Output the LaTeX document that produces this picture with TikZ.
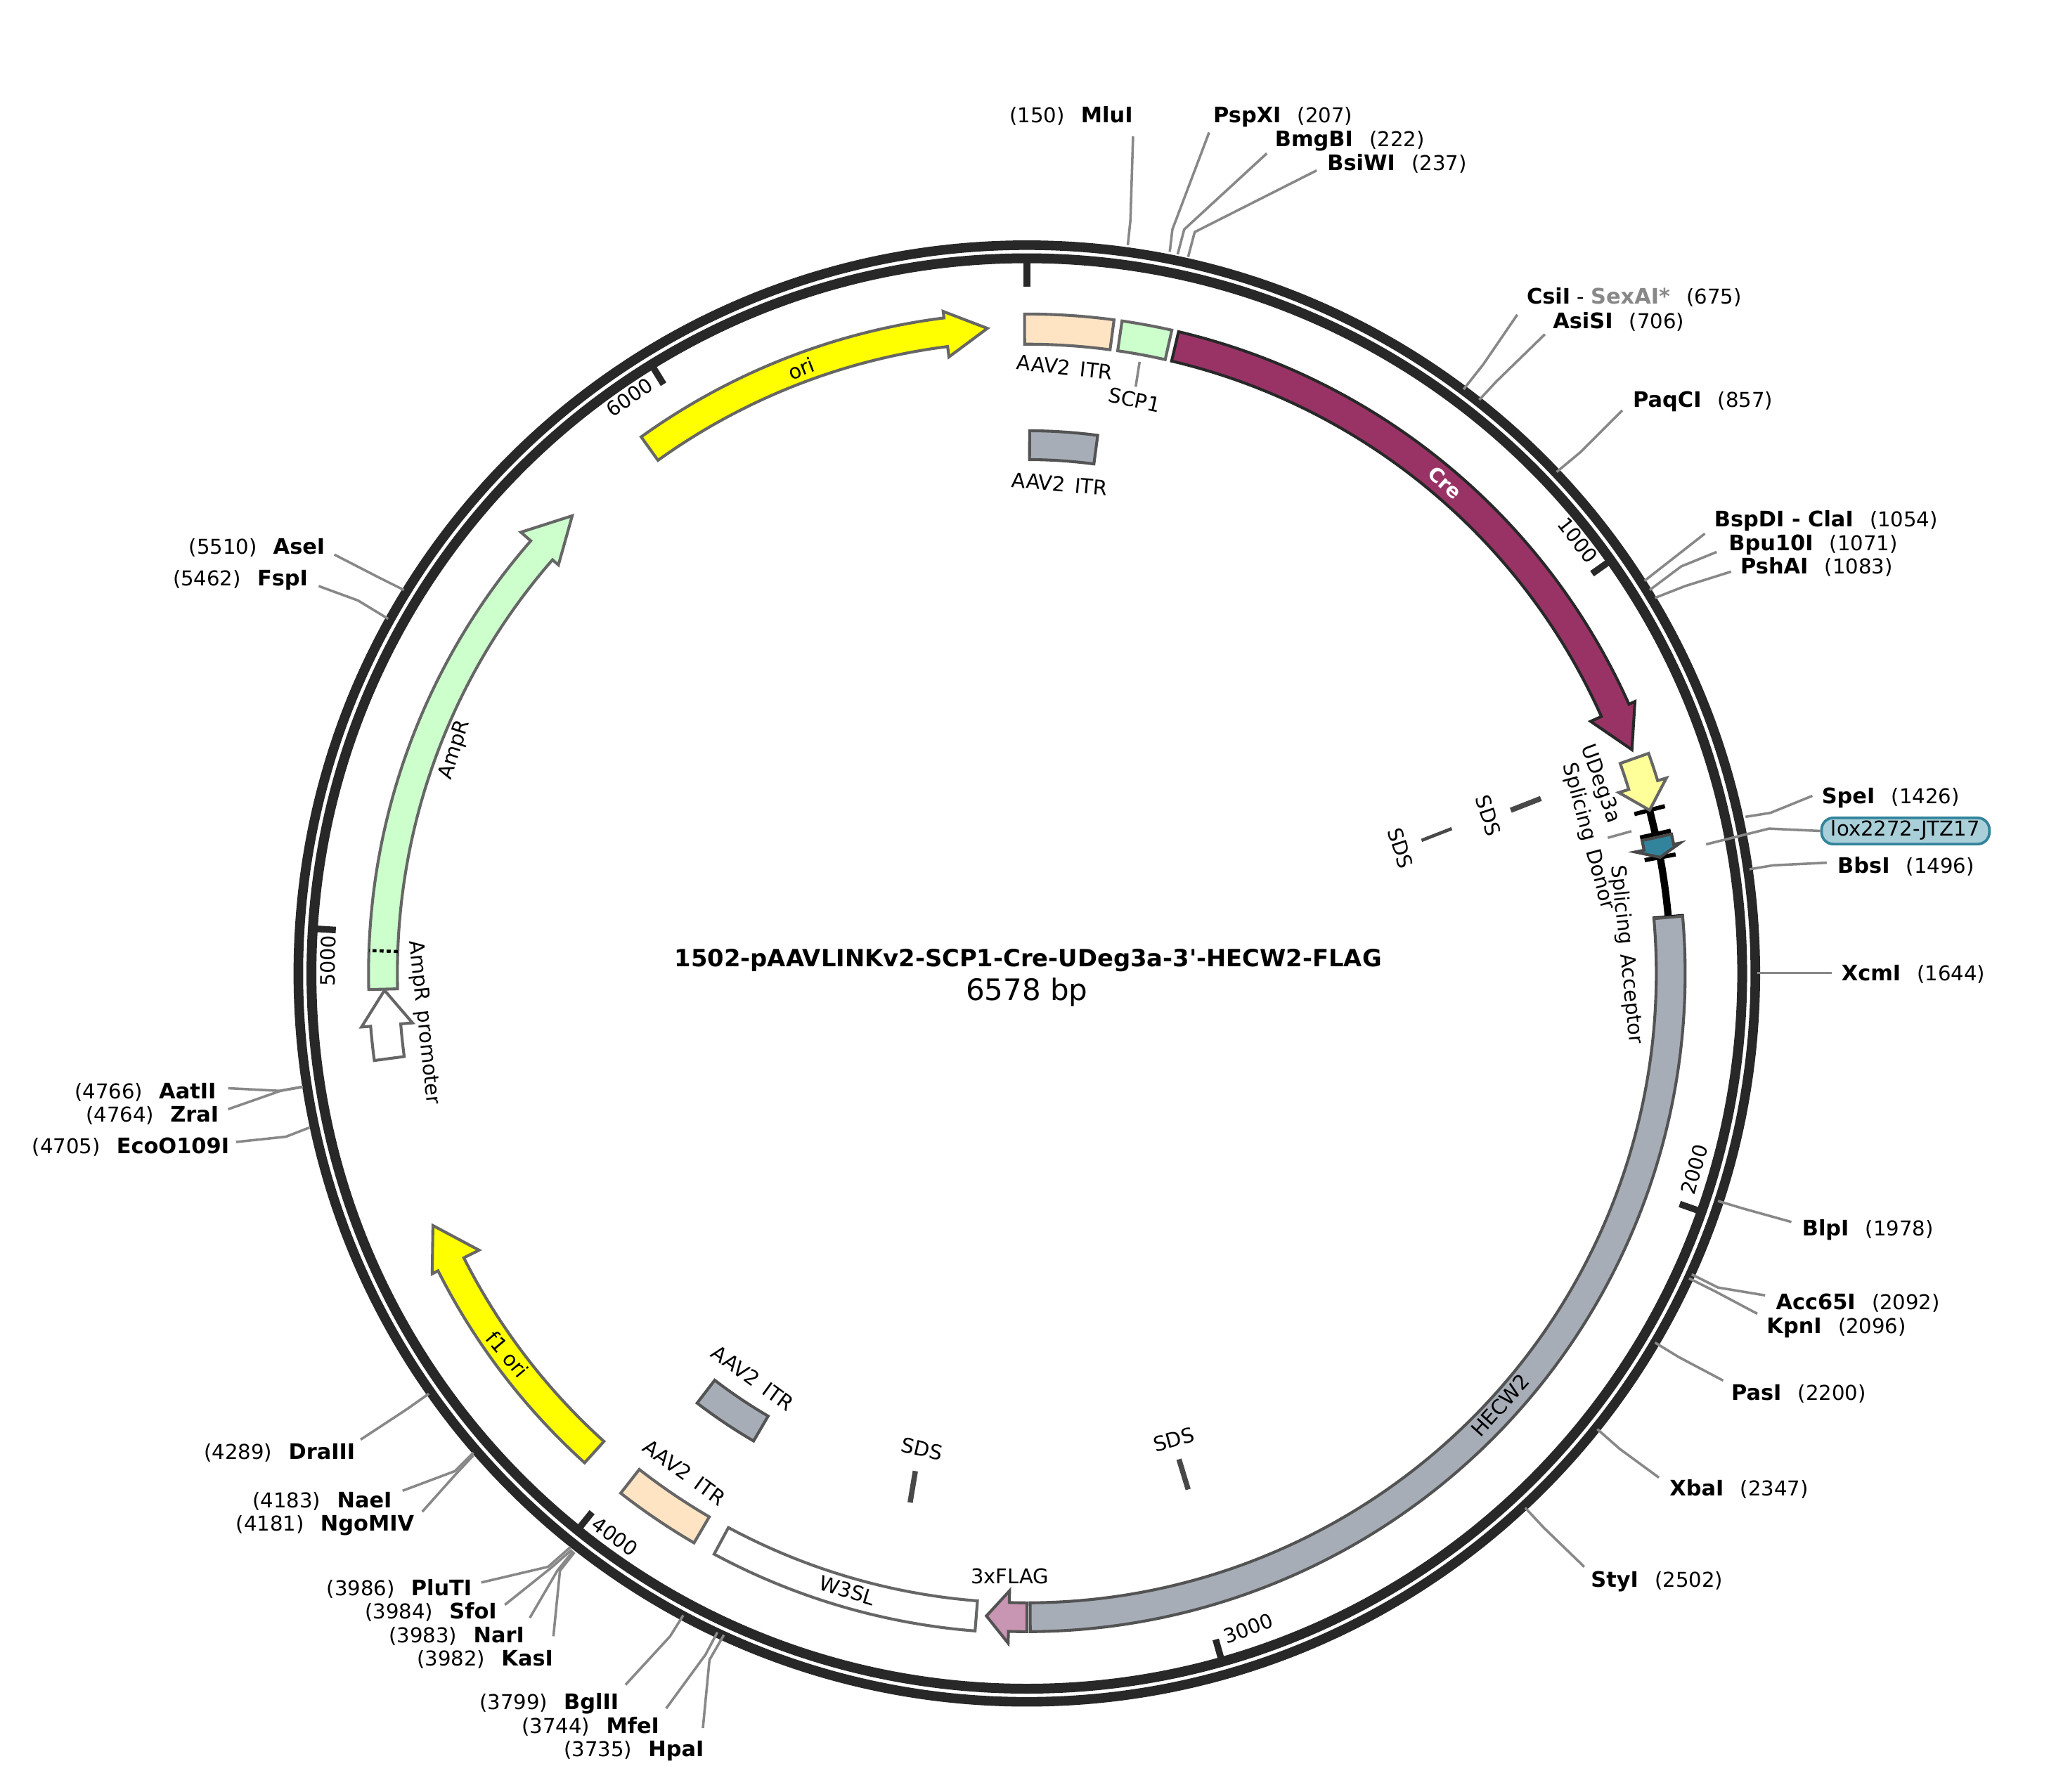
\documentclass[tikz,border=0pt]{standalone}
\usepackage{fontspec}
\setmainfont{DejaVu Sans}
\definecolor{ringc}{HTML}{282828}
\definecolor{leadc}{HTML}{888888}
\definecolor{edgec}{HTML}{666666}
\definecolor{creC}{HTML}{993366}
\definecolor{hecC}{HTML}{A6ADB6}
\definecolor{peachC}{HTML}{FFE4C4}
\definecolor{greenC}{HTML}{CCFFCC}
\definecolor{yelC}{rgb}{1,1,0}
\definecolor{lyelC}{HTML}{FFFF99}
\definecolor{blueC}{HTML}{31849B}
\definecolor{pinkC}{HTML}{C896B2}
\definecolor{pillC}{HTML}{A9CFD8}
\newcommand{\feBlock}[5]{%
  \draw[#5] ({90-#1}:#4) arc[start angle={90-#1},end angle={90-#2},radius=#4]
    -- ({90-#2}:#3) arc[start angle={90-#2},end angle={90-#1},radius=#3] -- cycle;}
\newcommand{\feArrow}[9]{% a1 a2 a3 rin rout bin bout rtip style
  \draw[#9] ({90-#1}:#5) arc[start angle={90-#1},end angle={90-#2},radius=#5]
    -- ({90-#2}:#7) -- ({90-#3}:#8) -- ({90-#2}:#6) -- ({90-#2}:#4)
    arc[start angle={90-#2},end angle={90-#1},radius=#4] -- cycle;}
\newcommand{\tickm}[3]{\draw[tickline] ({90-#1}:#2) -- ({90-#1}:#3);}
\newcommand{\enzname}[1]{{\fontsize{16.3}{18}\selectfont\bfseries #1}}
\newcommand{\rE}[4]{\node[enz,anchor=west] (#1) at (#3,#4) {\enzname{#1}\hspace{0.8em}(#2)};}
\newcommand{\lE}[4]{\node[enz,anchor=east] (#1) at (#3,#4) {(#2)\hspace{0.8em}\enzname{#1}};}
\newcommand{\lead}[4]{\coordinate (#1r) at #2; \coordinate (#1b) at #3; \coordinate (#1e) at #4; \draw[leader] (#1r) -- (#1b) -- (#1e);}
\tikzset{
  enz/.style={inner sep=0pt,yshift=-1.8pt,font=\fontsize{15.6}{18}\selectfont,text height=11.5pt,text depth=3.5pt},
  leader/.style={draw=leadc,line width=1.9pt,line join=round},
  tickline/.style={draw=ringc,line width=5pt},
  flab/.style={inner sep=0pt,font=\fontsize{15.5}{18}\selectfont},
  ticklab/.style={inner sep=0pt,font=\fontsize{15.2}{18}\selectfont},
  fe/.style={line width=2.2pt,draw=edgec,line join=miter},
  dbar/.style={draw=#1,line width=4pt},
}
\begin{document}
\begin{tikzpicture}[x=1pt,y=-1pt]
\useasboundingbox (0,0) rectangle (1567.8,1366.8);
\fill[white] (0,0) rectangle (1567.8,1366.8);
\begin{scope}[shift={(783,742.5)},x=1pt,y=1pt]
  \draw[draw=ringc,line width=7.3pt] (0,0) circle[radius=555.5];
  \draw[draw=ringc,line width=7.5pt] (0,0) circle[radius=545.5];
  \tickm{0}{544}{524}
  \tickm{54.72}{544}{528}
  \tickm{109.45}{544}{528}
  \tickm{164.17}{544}{528}
  \tickm{218.9}{544}{528}
  \tickm{273.6}{544}{528}
  \tickm{328.35}{544}{528}
  % backbone connectors
  \draw[line width=5.5pt,black] (90-75.3:491) -- (90-77.5:491);
  \draw[line width=3.2pt,black] (90-75.3:479) -- (90-75.3:503);
  \draw[line width=3.2pt,black] (90-77.5:479) -- (90-77.5:503);
  \draw[line width=5.5pt,black] (90-79.6:491) arc[start angle=10.4,end angle=5,radius=491];
  \draw[line width=3.2pt,black] (90-79.6:479) -- (90-79.6:503);
  \draw[line width=3.2pt,black] (90-85:479) -- (90-85:503);
  % features
  \feBlock{-0.2}{7.6}{480}{503}{fe,fill=peachC}
  \feBlock{8.3}{12.7}{480}{503}{fe,fill=greenC}
  \feArrow{13.3}{65.9}{69.7}{480}{503}{471}{508}{492}{fe,draw=ringc,fill=creC}
  \feArrow{70.5}{73}{75.3}{480}{503}{472}{510}{491}{fe,fill=lyelC}
  \feArrow{77.8}{78.7}{79.6}{480}{503}{473}{508}{491}{fe,draw=ringc!85,fill=blueC}
  \feBlock{85}{179.7}{480}{502}{fe,draw=ringc!80,fill=hecC}
  \feArrow{180}{181.6}{183.6}{480}{502}{471}{511}{491}{fe,draw=ringc!80,fill=pinkC}
  \feBlock{184.5}{208.3}{480}{503}{fe,fill=white}
  \feBlock{210.3}{218}{480}{503}{fe,fill=peachC}
  \feBlock{210.3}{217.5}{391}{413}{fe,draw=ringc!80,fill=hecC}
  \feBlock{0.3}{7.5}{392}{414}{fe,draw=ringc!80,fill=hecC}
  \feArrow{222.1}{243.2}{247}{481}{503}{468}{508}{492}{fe,fill=yelC}
  \feArrow{262.4}{265.4}{268.5}{479}{502}{470}{509}{490}{fe,fill=white}
  \feArrow{268.6}{311.1}{315.2}{480}{502}{474}{512}{492}{fe,fill=greenC}
  \draw[line width=2.4pt,black,dash pattern=on 3pt off 2.4pt] (90-272:480) -- (90-272:502);
  \feArrow{324.3}{352.8}{356.5}{482}{504}{474}{509}{493}{fe,fill=yelC}
\end{scope}
% title
\node[inner sep=0pt,font=\fontsize{18.1}{21}\selectfont\bfseries] (title) at (784,732.5) {1502-pAAVLINKv2-SCP1-Cre-UDeg3a-3\textquotesingle-HECW2-FLAG};
\node[inner sep=0pt,font=\fontsize{22.5}{26}\selectfont] (size) at (783,757) {6578 bp};
% tick labels
\node[ticklab,rotate=-51.8] (t1000) at (1203,412) {1000};
\node[ticklab,rotate=74] (t2000) at (1292,892) {2000};
\node[ticklab,rotate=20] (t3000) at (952,1242) {3000};
\node[ticklab,rotate=-36] (t4000) at (469,1172) {4000};
\node[ticklab,rotate=89] (t5000) at (250,733) {5000};
\node[ticklab,rotate=34.6] (t6000) at (480,303) {6000};
% feature labels
\node[flab,rotate=21] (lori) at (611,281) {ori};
\node[flab,rotate=-6] (lit1) at (812,280) {AAV2\hspace{0.15em} ITR};
\node[flab,rotate=-12] (lscp) at (865,305) {SCP1};
\coordinate (scpA) at (869,276); \coordinate (scpB) at (866,295);
\draw[leader] (scpA) -- (scpB);
\node[flab,rotate=-5] (lit2) at (808,369) {AAV2\hspace{0.15em} ITR};
\node[flab,rotate=-42,text=white,font=\fontsize{15}{18}\selectfont\bfseries] (lcre) at (1102,368) {Cre};
\node[flab,rotate=-70] (ludeg) at (1220,598) {UDeg3a};
\node[flab,rotate=-75] (lsd) at (1211,638) {Splicing\hspace{0.15em} Donor};
\node[flab,rotate=-84] (lsa) at (1240,728) {Splicing\hspace{0.15em} Acceptor};
\node[flab,rotate=-72] (sds1) at (1135,622) {SDS};
\node[flab,rotate=-72] (sds2) at (1068,647) {SDS};
\node[flab,rotate=15] (sds3) at (895,1098) {SDS};
\node[flab,rotate=-13] (sds4) at (703,1105) {SDS};
\draw[dbar=ringc!85] (1152,618) -- (1175,609);
\draw[dbar=ringc!85,line width=2.5pt] (1084,641) -- (1107,632);
\draw[dbar=ringc!85] (899,1113) -- (906,1136);
\draw[dbar=ringc!85] (698,1122) -- (694,1146);
\coordinate (sdA) at (1226,639); \coordinate (sdB) at (1244,634);
\draw[leader] (sdA) -- (sdB);
\node[flab,rotate=-84] (lpro) at (323,780) {AmpR\hspace{0.15em} promoter};
\node[flab,rotate=72] (lamp) at (347,572) {AmpR};
\node[flab,rotate=-50] (lf1) at (387,1033) {f1 ori};
\node[flab,rotate=-17] (lw3) at (646,1213) {W3SL};
\node[flab,rotate=48] (lhec) at (1144,1072) {HECW2};
\node[flab,rotate=-36] (lit3) at (574,1051) {AAV2\hspace{0.15em} ITR};
\node[flab,rotate=-36] (lit4) at (522,1123) {AAV2\hspace{0.15em} ITR};
\node[flab] (lflag) at (770,1202) {3xFLAG};
% enzyme labels, right side
\lE{MluI}{150}{864}{88}
\rE{PspXI}{207}{925}{88}
\rE{BmgBI}{222}{972}{106}
\rE{BsiWI}{237}{1012}{124}
\node[enz,anchor=west] (CsiI) at (1164,226) {\enzname{CsiI} - \textcolor{leadc}{\enzname{SexAI*}}\hspace{0.8em}(675)};
\rE{AsiSI}{706}{1184}{245}
\rE{PaqCI}{857}{1245}{305}
\node[enz,anchor=west] (ClaI) at (1307,396) {\enzname{BspDI - ClaI}\hspace{0.8em}(1054)};
\rE{Bpu10I}{1071}{1318}{414}
\rE{PshAI}{1083}{1327}{432}
\rE{SpeI}{1426}{1389}{607}
\node[enz,rounded corners=9pt,draw=blueC,line width=2pt,fill=pillC,minimum width=128pt,minimum height=20pt,inner sep=0pt] (lox) at (1453,632) {lox2272-JTZ17};
\rE{BbsI}{1496}{1401}{660}
\rE{XcmI}{1644}{1404}{742}
\rE{BlpI}{1978}{1374}{937}
\rE{Acc65I}{2092}{1354}{993}
\rE{KpnI}{2096}{1347}{1011}
\rE{PasI}{2200}{1320}{1062}
\rE{XbaI}{2347}{1273}{1135}
\rE{StyI}{2502}{1213}{1205}
% left side
\lE{HpaI}{3735}{537}{1334}
\lE{MfeI}{3744}{503}{1316}
\lE{BglII}{3799}{472}{1298}
\lE{KasI}{3982}{422}{1265}
\lE{NarI}{3983}{400}{1247}
\lE{SfoI}{3984}{379}{1229}
\lE{PluTI}{3986}{360}{1211}
\lE{NgoMIV}{4181}{316}{1162}
\lE{NaeI}{4183}{299}{1144}
\lE{DraIII}{4289}{271}{1107}
\lE{EcoO109I}{4705}{175}{874}
\lE{ZraI}{4764}{167}{850}
\lE{AatII}{4766}{165}{832}
\lE{FspI}{5462}{235}{441}
\lE{AseI}{5510}{248}{417}
% leaders
\lead{a}{(860,187)}{(862,168)}{(864,104)}
\lead{b}{(892,192)}{(894,175)}{(922,101)}
\lead{c}{(898,194)}{(903,175)}{(966,117)}
\lead{d}{(906,196)}{(911,177)}{(1004,130)}
\lead{e}{(1116,297)}{(1131,278)}{(1157,240)}
\lead{f}{(1128,305)}{(1141,291)}{(1178,255)}
\lead{g}{(1187,360)}{(1205,345)}{(1237,313)}
\lead{h}{(1254,443)}{(1277,425)}{(1300,407)}
\lead{i}{(1258,450)}{(1282,432)}{(1309,421)}
\lead{j}{(1262,456)}{(1285,447)}{(1320,436)}
\lead{k}{(1331,623)}{(1350,620)}{(1382,607)}
\lead{l}{(1301,644)}{(1349,632)}{(lox.west)}
\lead{m}{(1334,663)}{(1352,660)}{(1393,658)}
\lead{n}{(1340,742)}{(1360,742)}{(1397,742)}
\lead{o}{(1310,916)}{(1330,922)}{(1366,932)}
\lead{p}{(1290,972)}{(1310,982)}{(1346,988)}
\lead{q}{(1288,975)}{(1308,985)}{(1340,1002)}
\lead{r}{(1262,1024)}{(1280,1035)}{(1314,1053)}
\lead{s}{(1218,1090)}{(1235,1105)}{(1265,1127)}
\lead{t}{(1163,1150)}{(1177,1165)}{(1208,1195)}
\lead{u}{(552,1247)}{(541,1266)}{(536,1318)}
\lead{v}{(547,1245)}{(538,1262)}{(508,1303)}
\lead{w}{(521,1232)}{(511,1248)}{(477,1285)}
\lead{x}{(435,1180)}{(418,1195)}{(367,1207)}
\lead{y}{(436,1182)}{(420,1196)}{(385,1224)}
\lead{z}{(437,1183)}{(425,1198)}{(404,1234)}
\lead{aa}{(438,1184)}{(427,1198)}{(422,1248)}
\lead{ab}{(361,1108)}{(347,1122)}{(307,1137)}
\lead{ac}{(361,1110)}{(347,1125)}{(322,1153)}
\lead{ad}{(327,1063)}{(310,1075)}{(275,1098)}
\lead{ae}{(236,860)}{(218,867)}{(180,871)}
\lead{af}{(231,829)}{(214,832)}{(174,846)}
\lead{ag}{(230,829)}{(213,832)}{(174,830)}
\lead{ah}{(296,472)}{(273,458)}{(243,447)}
\lead{ai}{(308,450)}{(288,440)}{(255,423)}
\end{tikzpicture}
\end{document}
